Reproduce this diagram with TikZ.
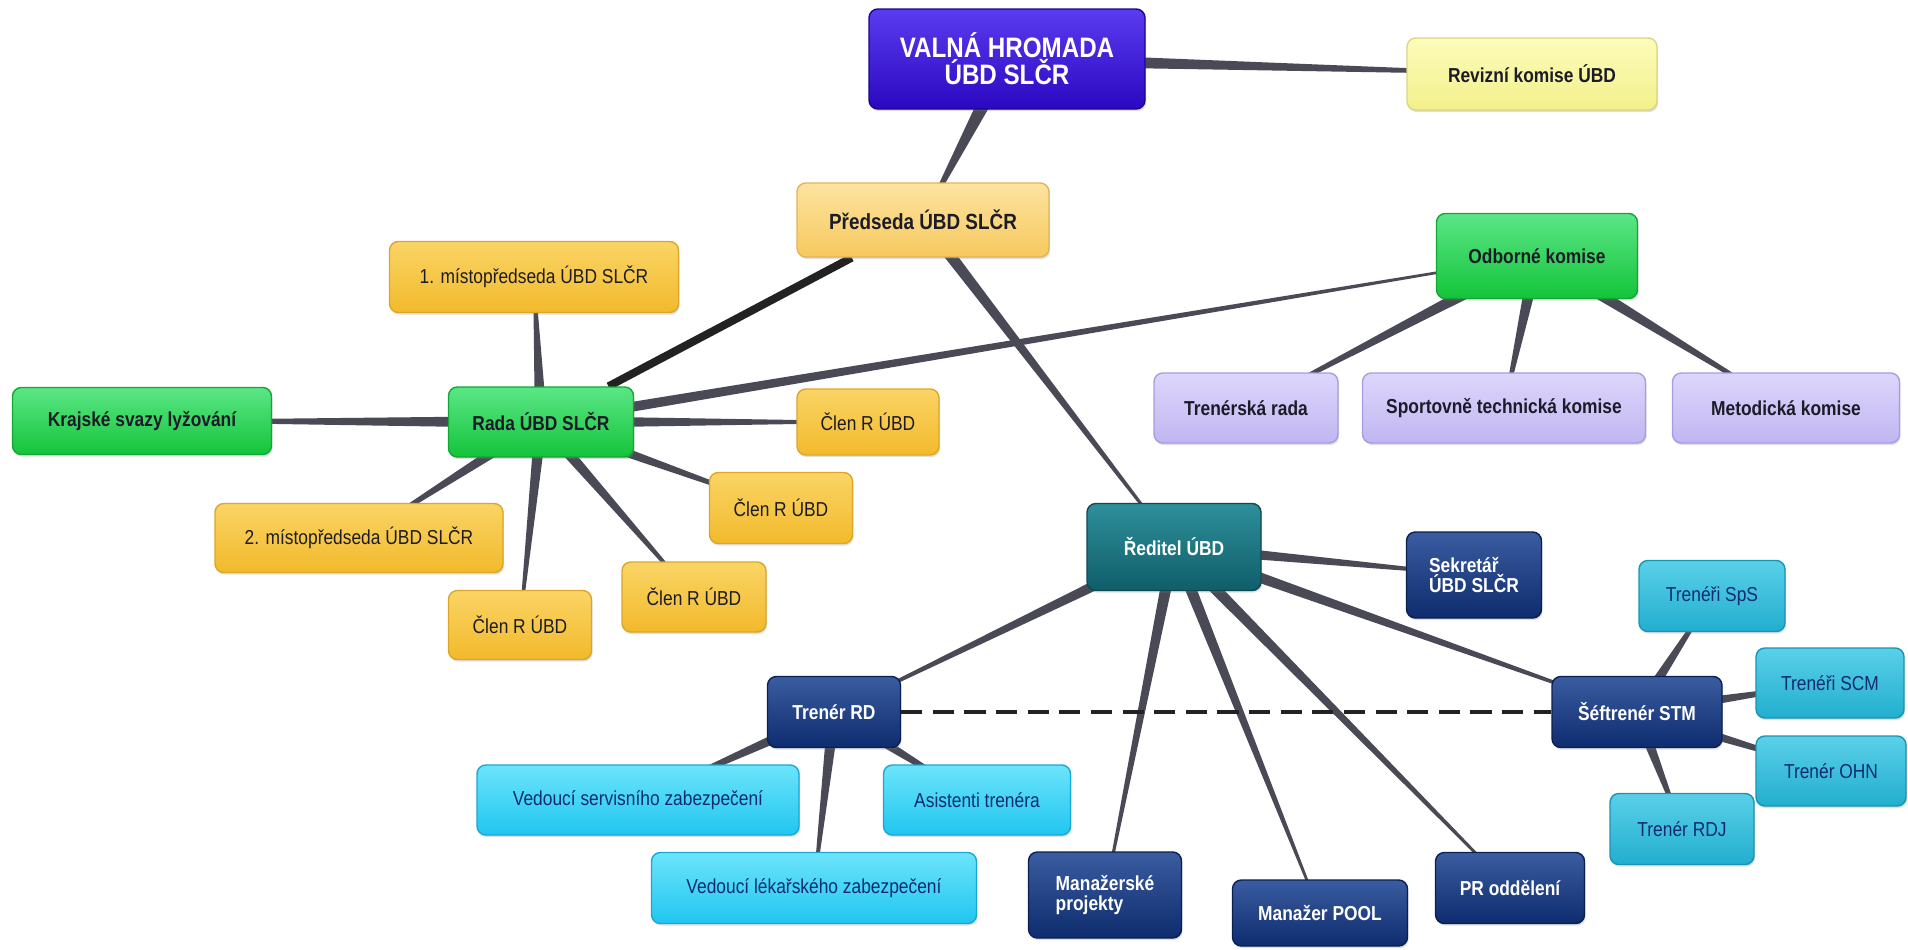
\documentclass[tikz,border=0pt]{standalone}
\usepackage{fontspec}
\setmainfont{Liberation Sans}[FakeStretch=0.86]
\usetikzlibrary{calc,backgrounds,shadows}

\definecolor{linkgray}{HTML}{4A4A56}
\definecolor{linkdark}{HTML}{222222}
\definecolor{txtdark}{HTML}{1C1C28}
\definecolor{valnaT}{HTML}{5B3CF0}\definecolor{valnaB}{HTML}{2A08C0}\definecolor{valnaD}{HTML}{1C0490}
\definecolor{revT}{HTML}{FCFCBC}\definecolor{revB}{HTML}{F3F08A}\definecolor{revD}{HTML}{DCD680}
\definecolor{predT}{HTML}{FDE3A0}\definecolor{predB}{HTML}{F6C95E}\definecolor{predD}{HTML}{E2B458}
\definecolor{yelT}{HTML}{FAD465}\definecolor{yelB}{HTML}{F2BA2C}\definecolor{yelD}{HTML}{DCA628}
\definecolor{grnT}{HTML}{5BE686}\definecolor{grnB}{HTML}{14C43A}\definecolor{grnD}{HTML}{12A634}
\definecolor{lavT}{HTML}{DDD6FB}\definecolor{lavB}{HTML}{C1B6F2}\definecolor{lavD}{HTML}{A89CE0}
\definecolor{tealT}{HTML}{2E8F9A}\definecolor{tealB}{HTML}{0F5E6A}\definecolor{tealD}{HTML}{0B4A54}
\definecolor{navyT}{HTML}{3A5CA0}\definecolor{navyB}{HTML}{0E2C6E}\definecolor{navyD}{HTML}{0A1F52}
\definecolor{cyanT}{HTML}{5AD0E8}\definecolor{cyanB}{HTML}{22AECF}\definecolor{cyanD}{HTML}{1894B4}
\definecolor{lcyT}{HTML}{6CE4FB}\definecolor{lcyB}{HTML}{20C6F0}\definecolor{lcyD}{HTML}{18A8D4}

% tapered connector: wide at the parent, thin at the child
\newcommand{\taper}[3][3.5pt]{%
  \fill[linkgray] ($(#2)!#1!90:(#3)$) -- ($(#3)!0.5pt!-90:(#2)$)
    -- ($(#3)!0.5pt!90:(#2)$) -- ($(#2)!#1!-90:(#3)$) -- cycle;}

\tikzset{
  box/.style={rectangle, rounded corners=5pt, line width=0.8pt, align=center,
    inner sep=0pt, font=\fontsize{11.5}{12.5}\selectfont, text=txtdark,
    drop shadow={opacity=0.25, shadow xshift=0.6pt, shadow yshift=-1.2pt}},
  sz/.style 2 args={minimum width=#1*0.02cm, minimum height=#2*0.02cm},
  valnabox/.style={box, top color=valnaT, bottom color=valnaB, draw=valnaD, text=white,
    font=\fontsize{16}{15.5}\selectfont\bfseries},
  revbox/.style={box, top color=revT, bottom color=revB, draw=revD, font=\fontsize{11.5}{12.5}\selectfont\bfseries},
  predbox/.style={box, top color=predT, bottom color=predB, draw=predD, font=\fontsize{12.5}{13}\selectfont\bfseries},
  yelbox/.style={box, top color=yelT, bottom color=yelB, draw=yelD},
  grnbox/.style={box, top color=grnT, bottom color=grnB, draw=grnD, font=\fontsize{11.5}{12.5}\selectfont\bfseries},
  lavbox/.style={box, top color=lavT, bottom color=lavB, draw=lavD, font=\fontsize{11.5}{12.5}\selectfont\bfseries},
  tealbox/.style={box, top color=tealT, bottom color=tealB, draw=tealD, text=white, font=\fontsize{11.5}{12.5}\selectfont\bfseries},
  navybox/.style={box, top color=navyT, bottom color=navyB, draw=navyD, text=white, font=\fontsize{11.5}{11.5}\selectfont\bfseries},
  cyanbox/.style={box, top color=cyanT, bottom color=cyanB, draw=cyanD, text=navyB},
  lcybox/.style={box, top color=lcyT, bottom color=lcyB, draw=lcyD, text=navyB},
}

\begin{document}
\begin{tikzpicture}[x=0.02cm, y=-0.02cm]
\useasboundingbox (0,0) rectangle (1908,950);

% top level
\node[valnabox, sz={276}{100}] (valna) at (1007,59) {VALNÁ HROMADA\\ÚBD SLČR};
\node[revbox, sz={250}{72}] (rev) at (1532,74) {Revizní komise ÚBD};
\node[predbox, sz={252}{74}] (pred) at (923,220) {Předseda ÚBD SLČR};

% rada
\node[grnbox, sz={185}{70}] (rada) at (541,422) {Rada ÚBD SLČR};
\node[grnbox, sz={259}{67}] (kraj) at (142,421) {Krajské svazy lyžování};
\node[yelbox, sz={289}{71}] (mist1) at (534,277) {1. místopředseda ÚBD SLČR};
\node[yelbox, sz={288}{69}] (mist2) at (359,538) {2. místopředseda ÚBD SLČR};
\node[yelbox, sz={142}{66}] (clen1) at (868,422) {Člen R ÚBD};
\node[yelbox, sz={143}{71}] (clen2) at (781,508) {Člen R ÚBD};
\node[yelbox, sz={144}{70}] (clen3) at (694,597) {Člen R ÚBD};
\node[yelbox, sz={143}{69}] (clen4) at (520,625) {Člen R ÚBD};

% komise
\node[grnbox, sz={201}{85}] (odb) at (1537,256) {Odborné komise};
\node[lavbox, sz={184}{70}] (trr) at (1246,408) {Trenérská rada};
\node[lavbox, sz={283}{70}] (stk) at (1504,408) {Sportovně technická komise};
\node[lavbox, sz={227}{70}] (met) at (1786,408) {Metodická komise};

% reditel
\node[tealbox, sz={174}{87}] (red) at (1174,547) {Ředitel ÚBD};
\node[navybox, sz={135}{86}, align=left] (sek) at (1474,575) {Sekretář\\ÚBD SLČR};
\node[navybox, sz={153}{86}, align=left] (mpr) at (1105,895) {Manažerské\\projekty};
\node[navybox, sz={175}{66}] (pool) at (1320,913) {Manažer POOL};
\node[navybox, sz={149}{71}] (pr) at (1510,888) {PR oddělení};

% treneri
\node[navybox, sz={133}{71}] (trd) at (834,712) {Trenér RD};
\node[lcybox, sz={322}{70}] (vsz) at (638,800) {Vedoucí servisního zabezpečení};
\node[lcybox, sz={187}{70}] (asi) at (977,800) {Asistenti trenéra};
\node[lcybox, sz={325}{71}] (vlz) at (814,888) {Vedoucí lékařského zabezpečení};
\node[navybox, sz={170}{71}] (sft) at (1637,712) {Šéftrenér STM};
\node[cyanbox, sz={146}{71}] (sps) at (1712,596) {Trenéři SpS};
\node[cyanbox, sz={148}{70}] (scm) at (1830,683) {Trenéři SCM};
\node[cyanbox, sz={150}{70}] (ohn) at (1831,771) {Trenér OHN};
\node[cyanbox, sz={144}{71}] (rdj) at (1682,829) {Trenér RDJ};

% connectors
\begin{pgfonlayer}{background}
\taper[5pt]{valna}{pred}
\taper[4pt]{valna}{rev}
\draw[linkdark, line width=4.5pt] (pred) -- (rada);
\taper[3.5pt]{pred}{red}
\taper[3pt]{rada}{odb}
\foreach \c in {kraj, mist1, mist2, clen1, clen2, clen3, clen4}
  \taper{rada}{\c};
\foreach \c in {trr, stk, met}
  \taper[4pt]{odb}{\c};
\foreach \c in {sek, trd, mpr, pool, pr, sft}
  \taper{red}{\c};
\foreach \c in {vsz, asi, vlz}
  \taper{trd}{\c};
\foreach \c in {sps, scm, ohn, rdj}
  \taper{sft}{\c};
\end{pgfonlayer}

\draw[linkdark, line width=2pt, dash pattern=on 12pt off 6pt] (trd.east) -- (sft.west);
\end{tikzpicture}
\end{document}
